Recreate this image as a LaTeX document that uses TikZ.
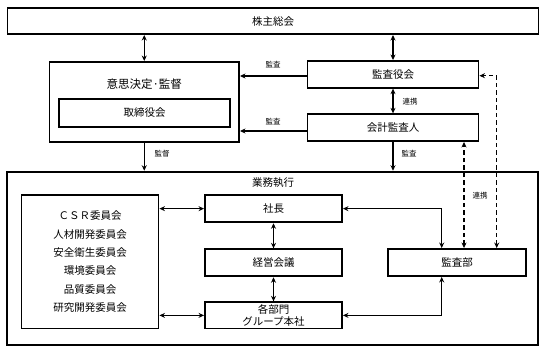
\documentclass[tikz,border=0pt]{standalone}
\usepackage{fontspec}
\setmainfont{Noto Sans CJK JP}
\usetikzlibrary{arrows.meta,calc}
\tikzset{
  box/.style={draw, line width=1.9pt, inner sep=0pt, font=\fontsize{10.5}{12}\selectfont},
  arr/.style={line width=1.5pt, {Stealth[length=5.5pt,width=5pt]}-{Stealth[length=5.5pt,width=5pt]}},
  onearr/.style={line width=1.5pt, -{Stealth[length=5.5pt,width=5pt]}},
  dasharr/.style={line width=1.5pt, dash pattern=on 4.5pt off 3pt, {Stealth[length=5.5pt,width=5pt]}-{Stealth[length=5.5pt,width=5pt]}},
  lbl/.style={font=\fontsize{7.5}{9}\selectfont, inner sep=0pt}
}
\begin{document}
\begin{tikzpicture}[x=1pt,y=-1pt]
\useasboundingbox (0,0) rectangle (546,353);
% upper boxes
\node[box, minimum width=531pt, minimum height=25.7pt] (soukai) at (273,21.2) {株主総会};
\node[box, minimum width=189.5pt, minimum height=79.7pt] (ishi) at (144.25,101.85) {};
\node[inner sep=0pt, font=\fontsize{11.5}{13}\selectfont] (ishit) at (144.25,84) {意思決定·監督};
\node[box, minimum width=171pt, minimum height=27.4pt] (tori) at (144.5,113) {取締役会};
\node[box, minimum width=171pt, minimum height=26.7pt] (kansayaku) at (393,74.35) {監査役会};
\node[box, minimum width=171pt, minimum height=26.7pt] (kaikei) at (393,127.65) {会計監査人};
% executive block
\node[box, minimum width=531.3pt, minimum height=173.3pt] (gyomu) at (272.65,258.35) {};
\node[inner sep=0pt, font=\fontsize{10.5}{12}\selectfont] (gyomut) at (273,182.3) {業務執行};
\node[box, minimum width=137pt, minimum height=133.5pt, align=center,
      font=\fontsize{10.5}{18.4}\selectfont] (iinkai) at (90,261.75)
  {ＣＳＲ委員会\\人材開発委員会\\安全衛生委員会\\環境委員会\\品質委員会\\研究開発委員会};
\node[box, minimum width=137pt, minimum height=27.3pt] (shacho) at (273.5,208.65) {社長};
\node[box, minimum width=137pt, minimum height=27pt] (keiei) at (273.5,262.8) {経営会議};
\node[box, minimum width=137pt, minimum height=26.2pt, align=center,
      font=\fontsize{10.5}{12.4}\selectfont] (kakubu) at (273.5,315.4) {各部門\\グループ本社};
\node[box, minimum width=137.4pt, minimum height=27pt] (kansabu) at (457,262.5) {監査部};
% connectors upper
\draw[arr] (ishi.north) -- (ishi.north |- soukai.south);
\draw[arr] (kansayaku.north) -- (kansayaku.north |- soukai.south);
\draw[arr] (kansayaku.south) -- (kaikei.north);
\draw[onearr] (kansayaku.west |- 0,76) -- (ishi.east |- 0,76);
\draw[onearr] (kaikei.west |- 0,131) -- (ishi.east |- 0,131);
\draw[onearr] (ishi.south) -- (ishi.south |- gyomu.north);
\draw[onearr] (kaikei.south) -- (kaikei.south |- gyomu.north);
\node[lbl] (l1) at (273,65) {監査};
\node[lbl] (l2) at (273,122) {監査};
\node[lbl] (l3) at (410,101.7) {連携};
\node[lbl] (l4) at (162,154) {監督};
\node[lbl] (l5) at (409,154) {監査};
\node[lbl] (l6) at (480,195.7) {連携};
% dashed
\coordinate (d1) at (464,0);
\coordinate (d2) at (496.7,0);
\draw[dasharr] (kansabu.north -| d1) -- (kaikei.south -| d1);
\draw[dasharr] (kansabu.north -| d2) |- (kansayaku.east |- 0,75.7);
% connectors lower
\coordinate (c) at (441.7,0);
\draw[arr] (iinkai.east |- shacho.west) -- (shacho.west);
\draw[arr] (iinkai.east |- kakubu.west) -- (kakubu.west);
\draw[arr] (shacho.south) -- (keiei.north);
\draw[arr] (keiei.south) -- (kakubu.north);
\draw[arr] (shacho.east) -| (kansabu.north -| c);
\draw[arr] (kakubu.east) -| (kansabu.south -| c);
\end{tikzpicture}
\end{document}
